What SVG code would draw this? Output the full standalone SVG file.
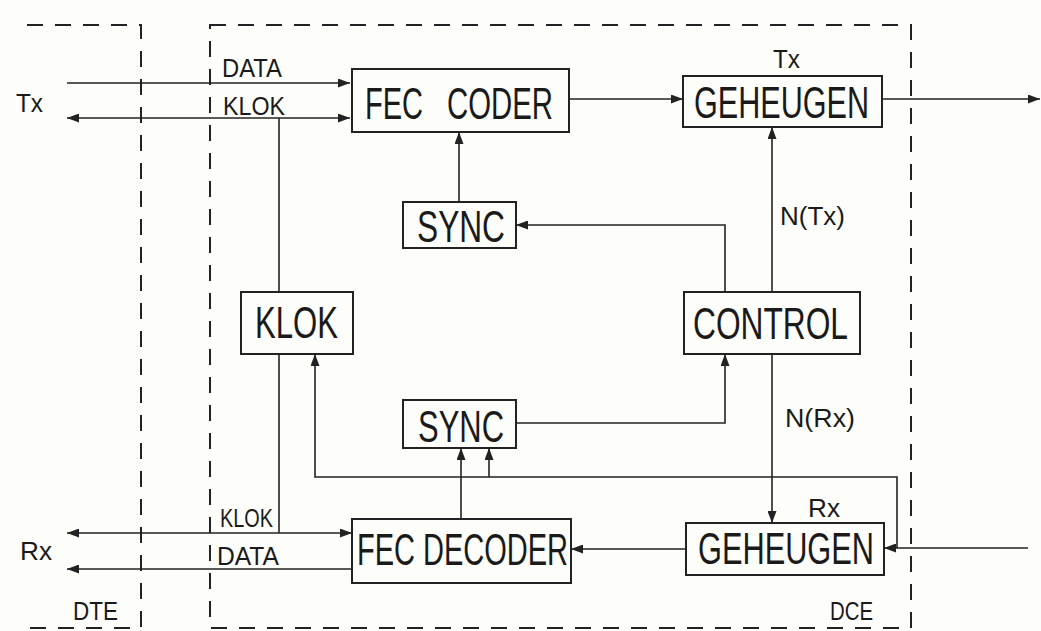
<svg xmlns="http://www.w3.org/2000/svg" width="1041" height="631" viewBox="0 0 1041 631">
<style>
.bg{fill:#fdfdfa}
.box{fill:none;stroke:#222;stroke-width:2}
.dash{fill:none;stroke:#222;stroke-width:2;stroke-dasharray:16 12}
.ln{fill:none;stroke:#222;stroke-width:1.6}
.big{font-family:"Liberation Sans","DejaVu Sans",sans-serif;font-size:44px;fill:#1a1a1a}
.sm{font-family:"Liberation Sans","DejaVu Sans",sans-serif;font-size:26px;fill:#1a1a1a}
</style>
<defs>
<marker id="ah" viewBox="0 0 12 9" refX="12" refY="4.5" markerWidth="12" markerHeight="9" markerUnits="userSpaceOnUse" orient="auto-start-reverse">
<path d="M0,0 L12,4.5 L0,9 z" fill="#222"/>
</marker>
</defs>
<rect class="bg" x="0" y="0" width="1041" height="631"/>
<g id="boundaries">
<path class="dash" d="M27,25 H141 V628 H20"/>
<rect class="dash" x="210" y="25" width="701" height="603"/>
</g>
<g id="connectors">
<path class="ln" d="M67,83 H350" marker-end="url(#ah)"/>
<path class="ln" d="M67,118 H350" marker-start="url(#ah)" marker-end="url(#ah)"/>
<path class="ln" d="M279,118 V292"/>
<path class="ln" d="M279,354 V533"/>
<path class="ln" d="M569,99 H683" marker-end="url(#ah)"/>
<path class="ln" d="M882,99 H1040" marker-end="url(#ah)"/>
<path class="ln" d="M459,202 V132" marker-end="url(#ah)"/>
<path class="ln" d="M725,292 V225 H516" marker-end="url(#ah)"/>
<path class="ln" d="M772,292 V127" marker-end="url(#ah)"/>
<path class="ln" d="M772,354 V523" marker-end="url(#ah)"/>
<path class="ln" d="M516,423 H725 V354" marker-end="url(#ah)"/>
<path class="ln" d="M461,519 V448" marker-end="url(#ah)"/>
<path class="ln" d="M897,548 V477 H315 V354" marker-end="url(#ah)"/>
<path class="ln" d="M489,477 V448" marker-end="url(#ah)"/>
<path class="ln" d="M1028,548 H884" marker-end="url(#ah)"/>
<path class="ln" d="M686,549 H571" marker-end="url(#ah)"/>
<path class="ln" d="M67,533 H352" marker-start="url(#ah)" marker-end="url(#ah)"/>
<path class="ln" d="M352,569 H67" marker-end="url(#ah)"/>
</g>
<g id="fec-coder">
<rect class="box" x="352" y="69" width="217" height="63"/>
<text class="big" x="365" y="119" textLength="58" lengthAdjust="spacingAndGlyphs">FEC</text>
<text class="big" x="447" y="119" textLength="106" lengthAdjust="spacingAndGlyphs">CODER</text>
</g>
<g id="geheugen-tx">
<rect class="box" x="683" y="76" width="199" height="51"/>
<text class="big" x="694" y="118" textLength="175" lengthAdjust="spacingAndGlyphs">GEHEUGEN</text>
</g>
<g id="sync-top">
<rect class="box" x="403" y="202" width="113" height="46"/>
<text class="big" x="417" y="242" textLength="88" lengthAdjust="spacingAndGlyphs">SYNC</text>
</g>
<g id="klok">
<rect class="box" x="241" y="292" width="112" height="62"/>
<text class="big" x="255" y="338" textLength="83" lengthAdjust="spacingAndGlyphs">KLOK</text>
</g>
<g id="control">
<rect class="box" x="684" y="292" width="176" height="62"/>
<text class="big" x="693" y="339" textLength="155" lengthAdjust="spacingAndGlyphs">CONTROL</text>
</g>
<g id="sync-bottom">
<rect class="box" x="403" y="400" width="113" height="48"/>
<text class="big" x="418" y="442" textLength="86" lengthAdjust="spacingAndGlyphs">SYNC</text>
</g>
<g id="fec-decoder">
<rect class="box" x="352" y="519" width="219" height="64"/>
<text class="big" x="357" y="565" textLength="211" lengthAdjust="spacingAndGlyphs">FEC DECODER</text>
</g>
<g id="geheugen-rx">
<rect class="box" x="686" y="523" width="198" height="52"/>
<text class="big" x="698" y="564" textLength="176" lengthAdjust="spacingAndGlyphs">GEHEUGEN</text>
</g>
<g id="labels">
<text class="sm" x="16" y="112" textLength="27" lengthAdjust="spacingAndGlyphs">Tx</text>
<text class="sm" x="222" y="77" textLength="60" lengthAdjust="spacingAndGlyphs">DATA</text>
<text class="sm" x="223" y="115" textLength="62" lengthAdjust="spacingAndGlyphs">KLOK</text>
<text class="sm" x="773" y="68" textLength="27" lengthAdjust="spacingAndGlyphs">Tx</text>
<text class="sm" x="780" y="225" textLength="65" lengthAdjust="spacingAndGlyphs">N(Tx)</text>
<text class="sm" x="785" y="427" textLength="70" lengthAdjust="spacingAndGlyphs">N(Rx)</text>
<text class="sm" x="808" y="517" textLength="32" lengthAdjust="spacingAndGlyphs">Rx</text>
<text class="sm" x="220" y="527" textLength="53" lengthAdjust="spacingAndGlyphs">KLOK</text>
<text class="sm" x="217" y="565" textLength="62" lengthAdjust="spacingAndGlyphs">DATA</text>
<text class="sm" x="20" y="560" textLength="32" lengthAdjust="spacingAndGlyphs">Rx</text>
<text class="sm" x="73" y="620" textLength="45" lengthAdjust="spacingAndGlyphs">DTE</text>
<text class="sm" x="830" y="620" textLength="43" lengthAdjust="spacingAndGlyphs">DCE</text>
</g>
</svg>
